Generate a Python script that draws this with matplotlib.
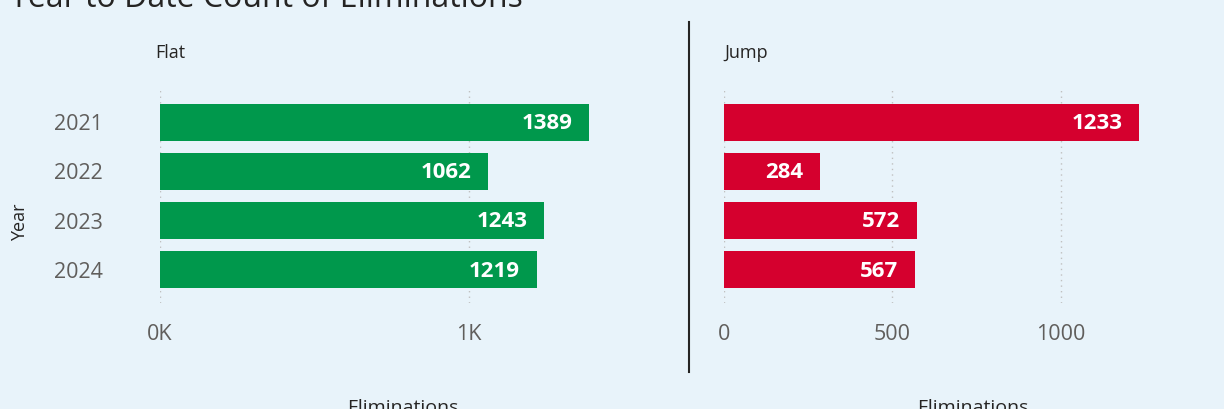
import matplotlib
matplotlib.use("Agg")
import matplotlib.pyplot as plt
from matplotlib.lines import Line2D

years = ["2021", "2022", "2023", "2024"]
flat = [1389, 1062, 1243, 1219]
jump = [1233, 284, 572, 567]
flat_ticks = [0, 1000]
flat_ticklabels = ["0K", "1K"]
jump_ticks = [0, 500, 1000]
jump_ticklabels = ["0", "500", "1000"]

BG = "#E8F3FA"
GREEN = "#00984C"
RED = "#D5002E"
FONT = ["Open Sans", "DejaVu Sans"]
plt.rcParams["font.family"] = FONT

W, H = 1224, 409
fig = plt.figure(figsize=(W / 100, H / 100), dpi=100, facecolor=BG)

def px_axes(x0, x1, y0, y1):
    return fig.add_axes([x0 / W, 1 - y1 / H, (x1 - x0) / W, (y1 - y0) / H])

def panel(ax, vals, color, xmax, ticks, ticklabels, title, title_x, show_y):
    ax.set_facecolor(BG)
    pos = list(range(len(years)))
    ax.barh(pos, vals, height=0.755, color=color, zorder=2)
    ax.set_ylim(len(years) - 1 + 0.68, -0.68)
    ax.set_xlim(0, xmax)
    ax.set_xticks(ticks)
    ax.set_xticklabels(ticklabels, fontsize=15.5, color="#605E5C")
    ax.tick_params(axis="x", length=0, pad=15)
    ax.grid(axis="x", color="#C0C0C0", linestyle=(0, (1, 3)), linewidth=1, zorder=0)
    ax.set_yticks(pos)
    if show_y:
        ax.set_yticklabels(years, fontsize=15.5, color="#605E5C")
        ax.tick_params(axis="y", length=0, pad=41)
    else:
        ax.set_yticklabels([])
        ax.tick_params(axis="y", length=0)
    for s in ax.spines.values():
        s.set_visible(False)
    for p, v in zip(pos, vals):
        ax.annotate(str(v), (v, p), xytext=(-12, -1), textcoords="offset points",
                    ha="right", va="center", color="white", fontsize=16,
                    fontweight="bold", zorder=3)
    ax.set_title(title, loc="left", fontsize=13, color="#252423", pad=22, x=title_x)

ax1 = px_axes(160, 640, 89, 303)
panel(ax1, flat, GREEN, 1553, flat_ticks, flat_ticklabels, "Flat", -0.01, True)
ax2 = px_axes(724, 1190, 89, 303)
panel(ax2, jump, RED, 1383, jump_ticks, jump_ticklabels, "Jump", 0.0, False)

fig.text(10 / W, 1 - 7 / H, "Year to Date Count of Eliminations", fontsize=23,
         color="#252423", ha="left", va="baseline")
fig.text(20 / W, 1 - 222 / H, "Year", rotation=90, fontsize=13, color="#252423",
         ha="center", va="center")
fig.text(403 / W, 1 - 413 / H, "Eliminations", fontsize=14, color="#252423",
         ha="center", va="baseline")
fig.text(973 / W, 1 - 413 / H, "Eliminations", fontsize=14, color="#252423",
         ha="center", va="baseline")
fig.add_artist(Line2D([689 / W, 689 / W], [1 - 22 / H, 1 - 372 / H],
                      transform=fig.transFigure, color="#252423", linewidth=1.5))

fig.savefig("out.png", dpi=100, facecolor=BG)
